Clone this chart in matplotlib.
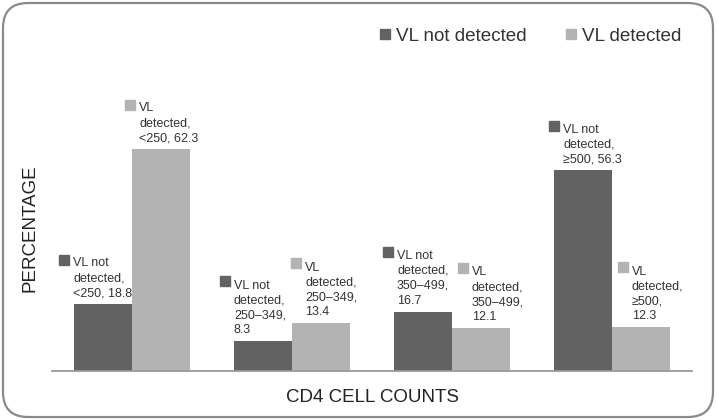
import numpy as np
import matplotlib
matplotlib.use("Agg")
import matplotlib.pyplot as plt
from matplotlib.patches import FancyBboxPatch
from matplotlib.lines import Line2D
from matplotlib.transforms import offset_copy

plt.rcParams['font.family'] = ['Liberation Sans', 'DejaVu Sans']

categories = ['<250', '250\u2013349', '350\u2013499', '\u2265500']
not_detected = [18.8, 8.3, 16.7, 56.3]
detected = [62.3, 13.4, 12.1, 12.3]
series_names = ['VL not detected', 'VL detected']

dark = '#626262'
light = '#b3b3b3'

fig = plt.figure(figsize=(7.17, 4.2), dpi=100)
ax = fig.add_axes([52 / 717, 49 / 420, 640 / 717, 285 / 420])

# rounded frame around the whole chart
frame = FancyBboxPatch((3 / 717, 3 / 420), 710 / 717, 414 / 420,
                       boxstyle="round,pad=0,rounding_size=0.035",
                       transform=fig.transFigure, facecolor='none',
                       edgecolor='#8a8a8a', linewidth=1.6, mutation_aspect=717 / 420)
fig.patches.append(frame)

x = np.arange(len(categories))
w = 0.3625
ax.bar(x - w / 2, not_detected, w, color=dark)
ax.bar(x + w / 2, detected, w, color=light)

ax.set_xlim(-0.5, 3.5)
ax.set_ylim(0, 80)
for s in ['top', 'right', 'left']:
    ax.spines[s].set_visible(False)
ax.spines['bottom'].set_color('#9a9a9a')
ax.spines['bottom'].set_linewidth(1.3)
ax.set_xticks([])
ax.set_yticks([])
ax.set_xlabel('CD4 CELL COUNTS', fontsize=13.5, color='#222222', labelpad=13)
ax.set_ylabel('PERCENTAGE', fontsize=13.5, color='#222222', labelpad=10)

# data labels: text left offset (px) from bar centre, wrapping style
nd_dx = [-30, -29, -26, -20]
d_dx = [-22, -16, -9, -9]
nd_split = [False, True, True, False]
d_split = [False, True, True, True]

def label(xc, h, dx, name, cat, val, split, color):
    head = name.replace(' detected', '\ndetected,')
    if split:
        txt = f"{head}\n{cat},\n{val}"
    else:
        txt = f"{head}\n{cat}, {val}"
    nlines = txt.count('\n') + 1
    tr = offset_copy(ax.transData, fig=fig, x=dx, y=5, units='dots')
    ax.text(xc, h, txt, transform=tr, ha='left', va='bottom', fontsize=9,
            color='#333333', linespacing=1.32)
    line_h = 16
    mtr = offset_copy(ax.transData, fig=fig, x=dx - 9,
                      y=5 + (nlines - 0.5) * line_h - 1, units='dots')
    ax.plot([xc], [h], marker='s', ms=7.6, color=color, transform=mtr, clip_on=False)

for i, cat in enumerate(categories):
    label(x[i] - w / 2, not_detected[i], nd_dx[i], series_names[0], cat,
          not_detected[i], nd_split[i], dark)
    label(x[i] + w / 2, detected[i], d_dx[i], series_names[1], cat,
          detected[i], d_split[i], light)

handles = [Line2D([], [], marker='s', ls='none', ms=7.8, color=c) for c in (dark, light)]
fig.legend(handles, series_names, loc='center', bbox_to_anchor=(530 / 717, 1 - 36 / 420),
           ncol=2, frameon=False, fontsize=13.6, handlelength=0.7, handletextpad=0.25,
           columnspacing=2.0, labelcolor='#333333')

fig.savefig('out.png', dpi=100)
